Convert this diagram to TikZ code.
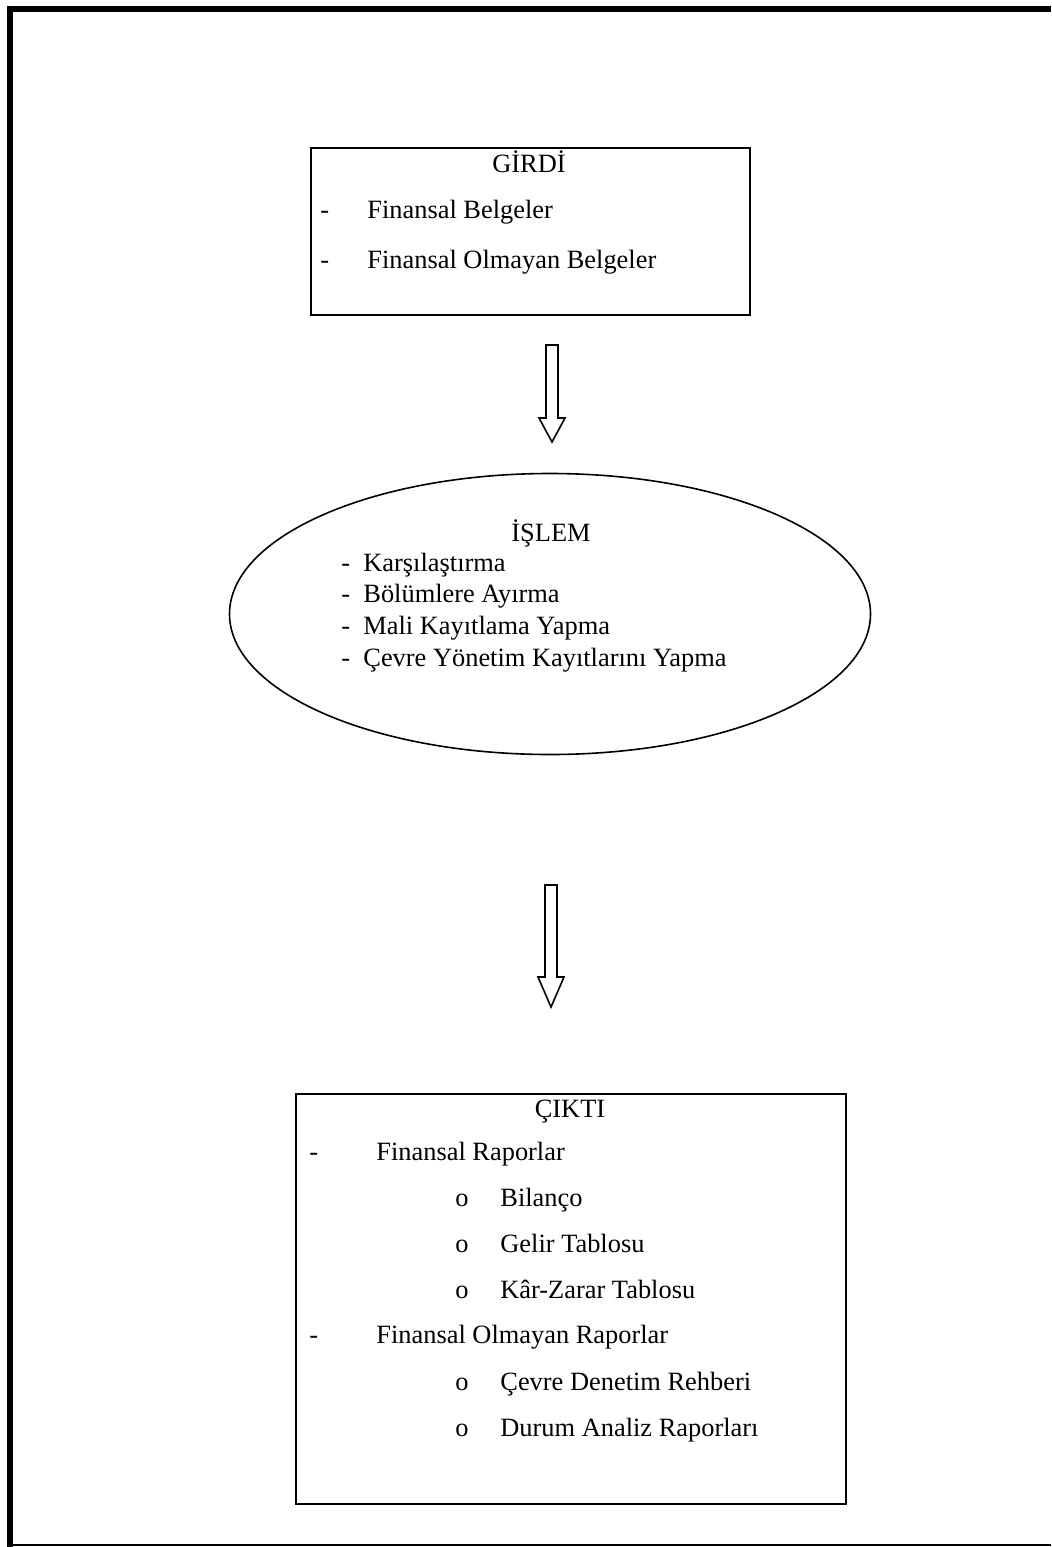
\documentclass[tikz,border=0pt]{standalone}
\usepackage{fontspec}
\setmainfont{Liberation Serif}
\usetikzlibrary{calc}
\usetikzlibrary{shapes.geometric}

\tikzset{
  frame/.style={draw, line width=0.8pt, inner sep=0pt, anchor=north west},
  txt/.style={anchor=base west, inner sep=0pt, font=\fontsize{13.2}{16}\selectfont},
  ttl/.style={anchor=base, inner sep=0pt, font=\fontsize{13.2}{16}\selectfont},
}
% hollow block arrow: top coordinate, shaft length, head length
\newcommand{\hollowarrow}[3]{%
  \draw[line width=0.8pt, line join=miter] ($(#1)+(-6,0)$) -- ++(0,#2) -- ++(-7,0)
    -- ($(#1)+(0,#2+#3)$) -- ($(#1)+(13,#2)$) -- ++(-7,0) -- ($(#1)+(6,0)$) -- cycle;}

\begin{document}
\begin{tikzpicture}[x=0.5pt, y=-0.5pt]
\useasboundingbox (0,0) rectangle (1051,1547);
% page frame
\fill (7,6) rectangle (1051,12);
\fill (7,6) rectangle (13,1547);
\fill (7,1544) rectangle (1051,1546);

% input box
\node[frame, minimum width=219.5pt, minimum height=83.5pt] (girdi) at (310,147) {};
\node[ttl] (girditl) at (529,172) {GİRDİ};
\foreach \y/\t [count=\i] in {218/Finansal Belgeler, 268/Finansal Olmayan Belgeler} {
 \node[txt] at (320,\y) {-};
 \node[txt] (gi\i) at (367,\y) {\t};
}

\coordinate (arr1) at (552,345);
\hollowarrow{arr1}{73}{24}

% process
\node[draw, ellipse, line width=0.8pt, minimum width=320.5pt, minimum height=140.5pt] (islem) at (550,614) {};
\node[ttl] (islemtl) at (551,541) {İŞLEM};
\foreach \y/\t [count=\i] in {571/Karşılaştırma, 602/Bölümlere Ayırma, 634/Mali Kayıtlama Yapma, 666/Çevre Yönetim Kayıtlarını Yapma} {
 \node[txt] at (341,\y) {-};
 \node[txt] (is\i) at (363,\y) {\t};
}

\coordinate (arr2) at (551,885);
\hollowarrow{arr2}{92}{30}

% output box
\node[frame, minimum width=275pt, minimum height=205pt] (cikti) at (295,1093) {};
\node[ttl] (ciktitl) at (570,1117) {ÇIKTI};
\foreach \y/\t [count=\i] in {1160/Finansal Raporlar, 1343/Finansal Olmayan Raporlar} {
 \node[txt] at (309,\y) {-};
 \node[txt] (ci\i) at (376,\y) {\t};
}
\foreach \y/\t [count=\i] in {1206/Bilanço, 1252/Gelir Tablosu, 1298/Kâr-Zarar Tablosu, 1390/Çevre Denetim Rehberi, 1436/Durum Analiz Raporları} {
 \node[txt] at (455,\y) {o};
 \node[txt] (cs\i) at (500,\y) {\t};
}
\end{tikzpicture}
\end{document}
